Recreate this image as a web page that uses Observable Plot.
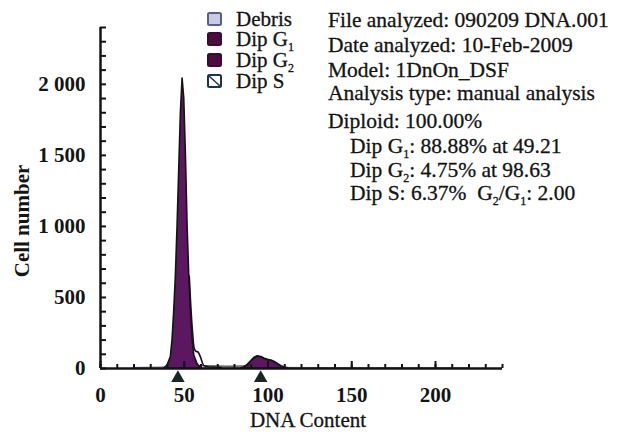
<!DOCTYPE html>
<html>
<head>
<meta charset="utf-8">
<script src="https://cdn.jsdelivr.net/npm/d3@7"></script>
<script src="https://cdn.jsdelivr.net/npm/@observablehq/plot@0.6"></script>
<style>
  body { margin: 0; background: #fff; }
  #chart { position: relative; width: 623px; height: 432px; }
  #chart svg text { white-space: pre; }
</style>
</head>
<body>
<div id="chart"></div>
<script>
// ---- data ----
const dnaG1   = [38, 40, 42, 43, 44, 45, 46, 47, 48, 49, 50, 51, 52, 53, 54, 55, 56, 58, 60];
const countG1 = [0, 20, 80, 200, 400, 650, 1000, 1400, 1800, 2040, 1900, 1500, 1000, 650, 400, 200, 90, 30, 0];

const dnaG2   = [84, 86, 88, 90, 92, 94, 96, 98, 100, 102, 104, 106, 108, 110, 112];
const countG2 = [0, 8, 25, 50, 75, 85, 80, 68, 60, 55, 45, 30, 15, 6, 0];

const dnaS    = [52, 56, 60, 65, 70, 75, 80, 85, 90, 95, 100, 105, 110];
const countS  = [0, 12, 16, 15, 14, 13, 13, 14, 16, 17, 14, 8, 0];

const dnaDebris   = [20, 30, 40, 60, 80, 100, 120, 140, 160, 180, 200, 220];
const countDebris = [4, 6, 8, 8, 6, 5, 4, 3, 3, 2, 2, 1];

const dnaRaw   = [53, 54, 55, 56, 57, 58, 59, 60, 61, 62, 64, 68, 72];
const countRaw = [650, 420, 250, 140, 120, 118, 100, 70, 35, 18, 12, 10, 8];

const peakMarkers = [49.21, 98.63];

const xMajorTicks = [0, 50, 100, 150, 200];
const xMinorTicks = d3.range(0, 241, 10);
const yMajorTicks = [0, 500, 1000, 1500, 2000];
const yMinorTicks = d3.range(0, 2401, 100);

const legendNames = ["Debris", "Dip G{1}", "Dip G{2}", "Dip S"];
const infoLines = [
  "File analyzed: 090209 DNA.001",
  "Date analyzed: 10-Feb-2009",
  "Model: 1DnOn_DSF",
  "Analysis type: manual analysis",
  "Diploid: 100.00%",
  "Dip G{1}: 88.88% at 49.21",
  "Dip G{2}: 4.75% at 98.63",
  "Dip S: 6.37%  G{2}/G{1}: 2.00"
];
const infoIndent = [0, 0, 0, 0, 0, 1, 1, 1];

const toRows = (xs, ys) => xs.map((x, i) => ({x, y: ys[i]}));
const g1 = toRows(dnaG1, countG1);
const g2 = toRows(dnaG2, countG2);
const sPhase = toRows(dnaS, countS);
const debris = toRows(dnaDebris, countDebris);
const raw = toRows(dnaRaw, countRaw);

const fmt = d => d3.format(",")(d).replace(",", " ");
const INK = "#141414";
const PURPLE = "#5b175f";

const svg = Plot.plot({
  width: 623,
  height: 432,
  marginLeft: 100,
  marginRight: 121,
  marginTop: 27,
  marginBottom: 64,
  style: {fontFamily: "'Liberation Serif', 'Times New Roman', serif", fontSize: "21px", color: INK, background: "white"},
  x: {domain: [0, 240]},
  y: {domain: [0, 2400]},
  marks: [
    Plot.areaY(debris, {x: "x", y: "y", fill: "#c9cae3", stroke: "#5a5f85", strokeWidth: 0.8}),
    Plot.areaY(sPhase, {x: "x", y: "y", fill: "white", stroke: INK, strokeWidth: 1}),
    Plot.areaY(g1, {x: "x", y: "y", fill: PURPLE, stroke: INK, strokeWidth: 1.6}),
    Plot.areaY(g2, {x: "x", y: "y", fill: PURPLE, stroke: INK, strokeWidth: 2}),
    Plot.line(raw, {x: "x", y: "y", stroke: INK, strokeWidth: 1.6, curve: "catmull-rom"}),
    Plot.ruleY([0], {stroke: INK, strokeWidth: 2.5}),
    Plot.ruleX([0], {stroke: INK, strokeWidth: 2.5}),
    Plot.axisX({ticks: xMinorTicks, tickSize: -4, tickFormat: () => "", strokeWidth: 2, label: null}),
    Plot.axisX({ticks: xMajorTicks, tickSize: -7, tickFormat: () => "", strokeWidth: 2, label: null}),
    Plot.axisX({ticks: xMajorTicks, tickSize: 0, tickPadding: 19, fontWeight: "bold", label: null}),
    Plot.axisY({ticks: yMinorTicks, tickSize: -6, tickFormat: () => "", strokeWidth: 2, label: null}),
    Plot.axisY({ticks: yMajorTicks, tickSize: 0, tickPadding: 15, tickFormat: fmt, fontWeight: "bold", label: null}),
    Plot.dot(peakMarkers, {x: d => d, y: 0, symbol: "triangle", r: 5, fill: "#1b2525", dy: 9.5, dx: -5})
  ]
});
document.getElementById("chart").appendChild(svg);

// ---- annotations (text, legend) ----
const root = d3.select(svg).append("g")
  .attr("font-family", "'Liberation Serif', 'Times New Roman', serif")
  .attr("text-anchor", "start")
  .attr("fill", INK);

function richText(sel, str, subSize) {
  const parts = str.split(/(\{[^}]*\})/).filter(p => p.length);
  let shifted = false;
  parts.forEach(p => {
    if (p.startsWith("{")) {
      sel.append("tspan").attr("font-size", subSize).attr("dy", 5).text(p.slice(1, -1));
      shifted = true;
    } else {
      const t = sel.append("tspan").text(p);
      if (shifted) { t.attr("dy", -5); shifted = false; }
    }
  });
}

// axis titles
root.append("text")
  .attr("transform", "translate(29,221) rotate(-90)")
  .attr("text-anchor", "middle")
  .attr("font-size", 21).attr("font-weight", "bold")
  .text("Cell number");
root.append("text")
  .attr("x", 308).attr("y", 427)
  .attr("text-anchor", "middle")
  .attr("font-size", 21)
  .attr("stroke", INK).attr("stroke-width", 0.3)
  .text("DNA Content");

// legend
const legendStyle = [
  {fill: "#c9cae3", stroke: "#5a5f85", hatch: false},
  {fill: "#4b0c3f", stroke: "#3a0a30", hatch: false},
  {fill: "#4b0c3f", stroke: "#3a0a30", hatch: false},
  {fill: "white", stroke: "#1f2f5a", hatch: true}
];
const legendBase = [26, 46, 67, 88];
legendNames.forEach((name, i) => {
  const st = legendStyle[i];
  const yb = legendBase[i];
  root.append("rect").attr("x", 208).attr("y", yb - 13).attr("width", 13).attr("height", 12)
    .attr("rx", 1.5).attr("fill", st.fill).attr("stroke", st.stroke).attr("stroke-width", 2);
  if (st.hatch) {
    root.append("line").attr("x1", 209).attr("y1", yb - 12).attr("x2", 220).attr("y2", yb - 2)
      .attr("stroke", st.stroke).attr("stroke-width", 1.5);
  }
  const t = root.append("text").attr("x", 236).attr("y", yb).attr("font-size", 21)
    .attr("stroke", INK).attr("stroke-width", 0.3);
  richText(t, name, 12);
});

// info block
const infoBase = [27, 52, 77, 100, 128, 153, 177, 200];
infoLines.forEach((line, i) => {
  const t = root.append("text").attr("x", 328 + infoIndent[i] * 22).attr("y", infoBase[i])
    .attr("font-size", 21.5).attr("stroke", INK).attr("stroke-width", 0.3);
  richText(t, line, 12);
});
</script>
</body>
</html>
